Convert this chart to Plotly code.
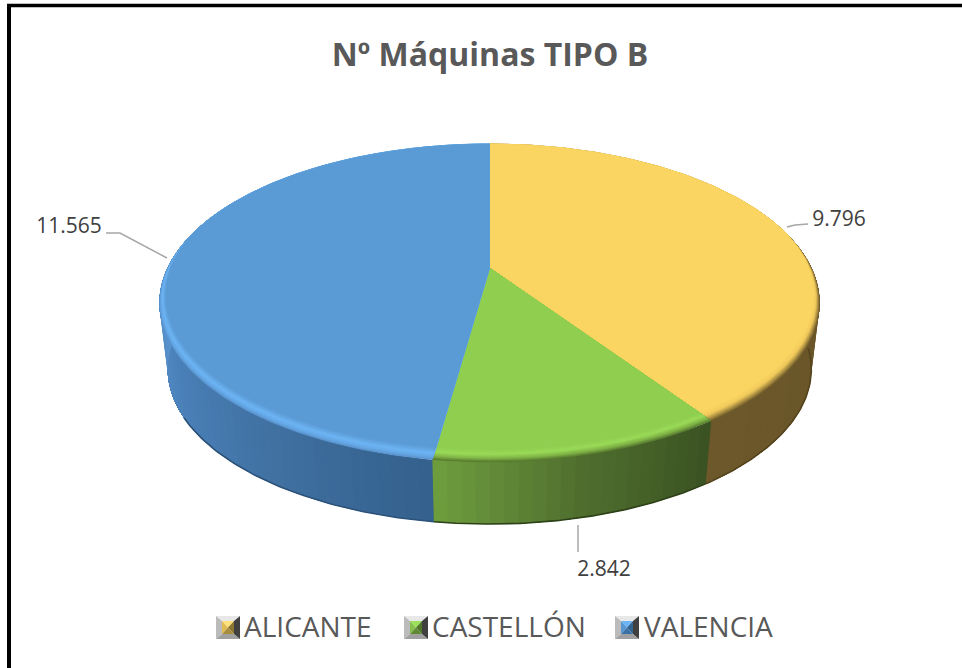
import numpy as np
import plotly.graph_objects as go

# ---- data ----
categories = ["ALICANTE", "CASTELLÓN", "VALENCIA"]
values = [9796, 2842, 11565]
title_text = "Nº Máquinas TIPO B"

# ---- style ----
# ring stops from inner (0) to outer (1) of the bevel
bevel_stops = [
    [(0, "#FBD562"), (0.45, "#F0CA5C"), (0.8, "#A88C42"), (1, "#7A642E")],
    [(0, "#90CE50"), (0.4, "#9ADA58"), (0.75, "#7FB246"), (1, "#587C30")],
    [(0, "#5B9BD5"), (0.5, "#6DB4F4"), (0.8, "#66A8E6"), (1, "#5A94CE")],
]
# side colour stops: (fraction of slice sweep, colour)
side_stops = [
    [(0, "#665326"), (1, "#6C582A")],
    [(0, "#3A5222"), (0.5, "#4F6E2E"), (1, "#6E9E3E")],
    [(0, "#33608C"), (0.2, "#3F6F9F"), (0.45, "#4A80B8"), (0.73, "#5B96D2"), (1, "#5B96D2")],
]
side_ranges = [(60, None), (None, None), (None, 300)]
edge_colors = ["#54441E", "#2D4118", "#2C5279"]
edge_ranges = [(95, None), (None, None), (None, 240)]
label_pos = [(839, 220), (604, 570), (69, 227)]
leaders = [[(787, 227), (795, 225), (808, 224)],
           [(578, 525), (578, 552), (578, 552)],
           [(167, 258), (120, 233), (106, 233)]]
legend_icon_x = [216, 404, 615]
legend_text_x = [244, 432, 644]

# perspective projection of the pie disc onto the page (pixel-based axes)
CX, K, C, A, B = 489.5, 322.0, -0.22, 92.4, 268.0
YMID, DROP, SHRINK = 303.0, 66.0, 0.975


def project(deg, s=1.0, base=False):
    th = np.radians(deg)
    u, v = s * np.sin(th), -s * np.cos(th)
    d = 1 + C * v
    x, y = CX + K * u / d, (B + A * v) / d
    if base:
        x, y = CX + (x - CX) * SHRINK, YMID + (y - YMID) * SHRINK + DROP
    return x, y


def hex2rgb(h):
    return np.array([int(h[i:i + 2], 16) for i in (1, 3, 5)], float)


def mix(stops, t):
    for (t0, c0), (t1, c1) in zip(stops, stops[1:]):
        if t <= t1:
            f = (t - t0) / (t1 - t0)
            r = hex2rgb(c0) * (1 - f) + hex2rgb(c1) * f
            return "rgb(%d,%d,%d)" % tuple(r.round())
    return stops[-1][1]


fig = go.Figure()


def poly(xs, ys, color, lw=0.0):
    fig.add_trace(go.Scatter(x=list(xs), y=list(ys), mode="lines", fill="toself",
                             fillcolor=color, line=dict(color=color, width=lw),
                             hoverinfo="skip", showlegend=False))


total = sum(values)
edges = np.cumsum([0] + values) / total * 360.0

# extruded sides: every strip runs to the end of its slice and the next paints over it
for i in range(3):
    a0, a1 = edges[i], edges[i + 1]
    lo = side_ranges[i][0] if side_ranges[i][0] is not None else a0
    hi = side_ranges[i][1] if side_ranges[i][1] is not None else a1
    n = max(2, int((hi - lo) / 2.0))
    grid = np.linspace(lo, hi, n + 1)
    for g0, g1 in zip(grid, grid[1:]):
        arc = np.linspace(g0, hi, max(4, int((hi - g0) / 2)))
        tx, ty = project(arc)
        bx, by = project(arc, base=True)
        col = mix(side_stops[i], ((g0 + g1) / 2 - lo) / (hi - lo))
        poly(np.r_[tx, bx[::-1]], np.r_[ty, by[::-1]], col)
    e0 = edge_ranges[i][0] if edge_ranges[i][0] is not None else a0
    e1 = edge_ranges[i][1] if edge_ranges[i][1] is not None else a1
    bx, by = project(np.linspace(e0, e1, 80), base=True)
    fig.add_trace(go.Scatter(x=bx, y=by, mode="lines",
                             line=dict(color=edge_colors[i], width=1.6),
                             hoverinfo="skip", showlegend=False))

# top face: bevel rings painted from the rim inward, narrowing towards the back
BEVEL = 0.05
rings = 12
for i in range(3):
    arc = np.linspace(edges[i], edges[i + 1], 240)
    v = -np.cos(np.radians(arc))
    f = np.clip((v + 0.25) / 1.25, 0, 1)
    for r in range(rings + 1):
        t = 1 - r / rings
        s = 1 - BEVEL * f * (1 - t)
        x, y = project(arc, s)
        poly(np.r_[CX, x, CX], np.r_[B, y, B], mix(bevel_stops[i], t), lw=0.3)

# leader lines
for pts in leaders:
    fig.add_trace(go.Scatter(x=[p[0] for p in pts], y=[p[1] for p in pts], mode="lines",
                             line=dict(color="#A6A6A6", width=1.5),
                             hoverinfo="skip", showlegend=False))

# value labels
fig.add_trace(go.Scatter(
    x=[p[0] for p in label_pos], y=[p[1] + 1 for p in label_pos], mode="text",
    text=[f"{val:,}".replace(",", ".") for val in values],
    textfont=dict(family="Open Sans", size=21, color="#404040"),
    textposition="middle center", hoverinfo="skip", showlegend=False))

# legend icons + text
icon_inner = [("#FFE27A", "#E0BC52", "#A88C3E", "#8C7634"),
              ("#9BE25A", "#84C04C", "#5F8A33", "#4F762B"),
              ("#6DB4F4", "#5896D2", "#3A72A6", "#316290")]
for i in range(3):
    x0, x1, y0, y1 = legend_icon_x[i], legend_icon_x[i] + 24, 616, 639
    ix0, ix1, iy0, iy1 = x0 + 6, x1 - 6, y0 + 5, y1 - 5
    mx, my = (x0 + x1) / 2, (y0 + y1) / 2
    poly([x0, x1, ix1, ix0, x0], [y0, y0, iy0, iy0, y0], "#E8E8E8")
    poly([x0, ix0, ix0, x0, x0], [y0, iy0, iy1, y1, y0], "#BBBBBB")
    poly([x0, ix0, ix1, x1, x0], [y1, iy1, iy1, y1, y1], "#A0A0A0")
    poly([x1, ix1, ix1, x1, x1], [y0, iy0, iy1, y1, y0], "#404040")
    c = icon_inner[i]
    poly([ix0, ix1, mx, ix0], [iy0, iy0, my, iy0], c[0])
    poly([ix0, mx, ix0, ix0], [iy0, my, iy1, iy0], c[1])
    poly([ix0, ix1, mx, ix0], [iy1, iy1, my, iy1], c[2])
    poly([ix1, mx, ix1, ix1], [iy0, my, iy1, iy0], c[3])

fig.add_trace(go.Scatter(
    x=legend_text_x, y=[630, 630, 630], mode="text", text=categories,
    textfont=dict(family="Open Sans", size=28, color="#595959"),
    textposition="middle right", hoverinfo="skip", showlegend=False))

fig.update_layout(
    width=962, height=668, margin=dict(l=0, r=0, t=0, b=0),
    paper_bgcolor="white", plot_bgcolor="white", showlegend=False,
    xaxis=dict(range=[0, 962], visible=False, fixedrange=True),
    yaxis=dict(range=[668, 0], visible=False, fixedrange=True),
    title=dict(text=f"<b>{title_text}</b>", x=490 / 962, y=1 - 55 / 668, xanchor="center",
               yanchor="middle", font=dict(family="Open Sans", size=32, color="#595959")),
    shapes=[
        dict(type="line", xref="x", yref="y", x0=7, x1=962, y0=5.5, y1=5.5,
             line=dict(color="black", width=3.5)),
        dict(type="line", xref="x", yref="y", x0=9, x1=9, y0=4, y1=668,
             line=dict(color="black", width=4)),
    ],
)
fig.write_html("out.html", config={"displayModeBar": False},
               post_script="document.body.style.margin='0';")
